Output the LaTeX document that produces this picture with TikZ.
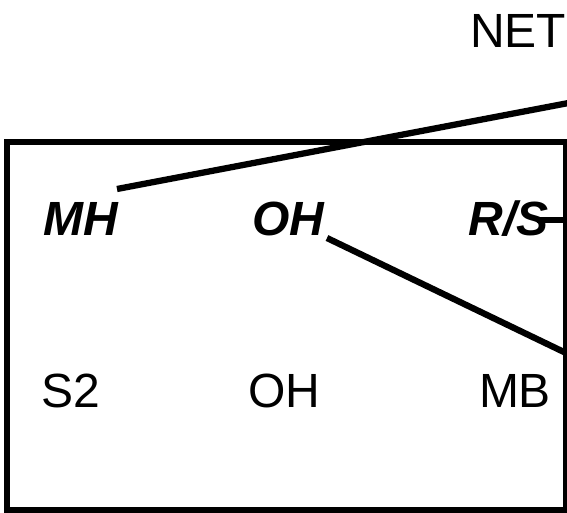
\documentclass[tikz,border=0pt]{standalone}
\usepackage{fontspec}
\setmainfont{Liberation Sans}
\begin{document}
\begin{tikzpicture}[x=1pt,y=-1pt,
  lbl/.style={anchor=base,inner sep=0pt,font=\fontsize{48}{48}\selectfont},
  blbl/.style={lbl,font=\fontsize{48}{48}\selectfont\bfseries\itshape},
  boxline/.style={line width=6pt},
  thick line/.style={line width=6.3pt,line cap=butt}]
\useasboundingbox (0,0) rectangle (567,512);
\clip (0,0) rectangle (567,512);
\node[draw,boxline,minimum width=558.5pt,minimum height=367.5pt,inner sep=0pt] (box) at (286.25,325.75) {};
\node[lbl] (net) at (518,47) {NET};
\node[blbl] (mh) at (81,235) {MH};
\node[blbl] (oh1) at (288,235) {OH};
\node[blbl] (rs) at (509,235) {R/S};
\node[lbl] (s2) at (71,407) {S2};
\node[lbl] (oh2) at (284,407) {OH};
\node[lbl] (mb) at (515,407) {MB};
\coordinate (a1) at (117,189);
\coordinate (a2) at (600,97);
\coordinate (b1) at (537,220);
\coordinate (b2) at (600,220);
\coordinate (c1) at (327,238);
\coordinate (c2) at (566,353);
\draw[thick line] (a1) -- (a2);
\draw[thick line] (b1) -- (b2);
\draw[thick line] (c1) -- (c2);
\end{tikzpicture}
\end{document}
